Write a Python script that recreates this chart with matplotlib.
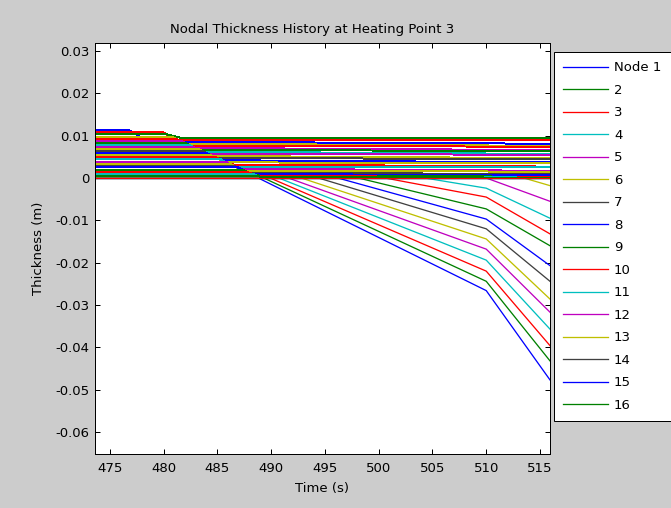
import matplotlib
matplotlib.use("Agg")
import matplotlib.pyplot as plt
from matplotlib.lines import Line2D
import numpy as np

plt.rcParams['font.family'] = ['DejaVu Sans']
plt.rcParams['axes.unicode_minus'] = False

# Time span of the recorded history (s)
t_first = 473.58
t_knee = 510.0
t_last = 515.93

# Nodes 1-16: thickness stays at zero, then drops from its start time,
# with a change of rate at t_knee.
node_labels = ['Node 1', '2', '3', '4', '5', '6', '7', '8', '9', '10',
               '11', '12', '13', '14', '15', '16']
node_start = [488.8, 489.3, 489.9, 490.7, 491.6, 492.8, 494.4, 496.2,
              498.1, 500.6, 504.3, 510.0, 513.5, 515.93, 515.93, 515.93]
node_knee = [-0.0266, -0.0244, -0.0220, -0.0194, -0.0168, -0.0144, -0.0120,
             -0.0097, -0.0073, -0.0045, -0.0024, np.nan, np.nan, np.nan,
             np.nan, np.nan]
node_end = [-0.0477, -0.0432, -0.0396, -0.0357, -0.0317, -0.0286, -0.0244,
            -0.0207, -0.0160, -0.0132, -0.0095, -0.0055, -0.0018, 0.0,
            0.0, 0.0]

# Remaining nodes: initial thickness, time the step starts, time the step
# ends, level after the step, and level at the end of the record.
upper_level = [0.0113, 0.0108, 0.0103, 0.0098, 0.0093, 0.0088, 0.0083,
               0.0079, 0.0074, 0.0069, 0.0064, 0.0059, 0.0054, 0.0049,
               0.0044, 0.0039, 0.0034, 0.0029, 0.0025, 0.0020, 0.0015,
               0.0010, 0.0005, 0.0000]
upper_break = [476.8, 479.9, 480.3, 480.7, 481.1, 481.6, 482.0, 482.3,
               482.7, 483.2, 483.6, 484.0, 484.4, 484.9, 485.3, 485.7,
               486.1, 486.5, 486.9, 487.3, 487.7, 488.2, 488.6, 515.93]
upper_settle_time = [478.5, 481.2, 481.6, 482.0, 482.4, 482.9, 483.3, 483.6,
                     484.0, 484.5, 484.9, 485.3, 485.7, 486.2, 486.6, 487.0,
                     487.4, 487.8, 488.2, 488.5, 488.8, 489.0, 489.2, 515.93]
upper_settle = [0.0086, 0.0091, 0.0095, 0.0081, 0.0076, 0.0071, 0.0066,
                0.0062, 0.0057, 0.0052, 0.0047, 0.0042, 0.0037, 0.0032,
                0.0027, 0.0022, 0.0017, 0.0013, 0.0009, 0.0006, 0.0004,
                0.0003, 0.0002, 0.0000]
upper_final = [0.0081, 0.0089, 0.0094, 0.0076, 0.0074, 0.0066, 0.0064,
               0.0057, 0.0055, 0.0047, 0.0045, 0.0037, 0.0035, 0.0027,
               0.0025, 0.0017, 0.0015, 0.0009, 0.0007, 0.0003, 0.0003,
               0.0001, 0.0001, 0.0000]
upper_color = ['b', 'r', 'g', 'y', 'r', 'm', 'g', 'c', 'm', 'y', 'k', 'b',
               'y', 'r', 'c', 'm', 'y', 'k', 'b', 'g', 'r', 'c', 'g', 'r']

palette = {
    'b': (0.0, 0.0, 1.0),
    'g': (0.0, 0.5, 0.0),
    'r': (1.0, 0.0, 0.0),
    'c': (0.0, 0.75, 0.75),
    'm': (0.75, 0.0, 0.75),
    'y': (0.75, 0.75, 0.0),
    'k': (0.25, 0.25, 0.25),
}
cycle = ['b', 'g', 'r', 'c', 'm', 'y', 'k']

xticks = [475, 480, 485, 490, 495, 500, 505, 510, 515]
yticks = [0.03, 0.02, 0.01, 0.0, -0.01, -0.02, -0.03, -0.04, -0.05, -0.06]

fig = plt.figure(figsize=(6.71, 5.08), dpi=100, facecolor='#cccccc')
ax = fig.add_axes([0.14113, 0.1063, 0.67854, 0.80906])
ax.set_facecolor('white')

px = 0.72  # one pixel in points at 100 dpi
fs = 9.5

for i in range(len(node_labels)):
    ts = [t_first, node_start[i]]
    vs = [0.0, 0.0]
    if node_start[i] < t_knee and not np.isnan(node_knee[i]):
        ts.append(t_knee)
        vs.append(node_knee[i])
    if node_start[i] < t_last:
        ts.append(t_last)
        vs.append(node_end[i])
    else:
        ts[-1] = t_last
    ax.plot(ts, vs, color=palette[cycle[i % 7]], lw=1.3 * px,
            antialiased=True)

for i in range(len(upper_level)):
    ts = [t_first, upper_break[i]]
    vs = [upper_level[i], upper_level[i]]
    if upper_break[i] < t_last:
        ts += [upper_settle_time[i], t_last]
        vs += [upper_settle[i], upper_final[i]]
    ax.plot(ts, vs, color=palette[upper_color[i]], lw=px, antialiased=False)

ax.set_xlim(t_first, t_last)
ax.set_ylim(-0.0652, 0.0319)
ax.set_xticks(xticks)
ax.set_yticks(yticks)
ax.set_xticklabels([str(v) for v in xticks])
ax.set_yticklabels(['{:g}'.format(v) for v in yticks])
ax.tick_params(direction='in', length=3.3, width=px, top=True, right=True,
               labelsize=fs, colors='black')
ax.tick_params(axis='x', pad=6)
ax.tick_params(axis='y', pad=3.5)
for s in ax.spines.values():
    s.set_linewidth(px)
    s.set_color('black')

ax.set_title('Nodal Thickness History at Heating Point 3', fontsize=fs, pad=7,
             x=0.478)
ax.set_xlabel('Time (s)', fontsize=fs, labelpad=4.5)
ax.set_ylabel('Thickness (m)', fontsize=fs, labelpad=8)

proxies = [Line2D([], [], color=palette[cycle[i % 7]], lw=1.3 * px)
           for i in range(len(node_labels))]
leg = fig.legend(handles=proxies, labels=node_labels, loc='upper left',
                 bbox_to_anchor=(554 / 671, 1 - 52 / 508),
                 bbox_transform=fig.transFigure, fontsize=fs,
                 fancybox=False, framealpha=1, edgecolor='black',
                 handlelength=3.4, handletextpad=0.45, labelspacing=0.72,
                 borderpad=0.7, borderaxespad=0)
leg.get_frame().set_linewidth(px)

fig.savefig('out.png', dpi=100, facecolor=fig.get_facecolor())
